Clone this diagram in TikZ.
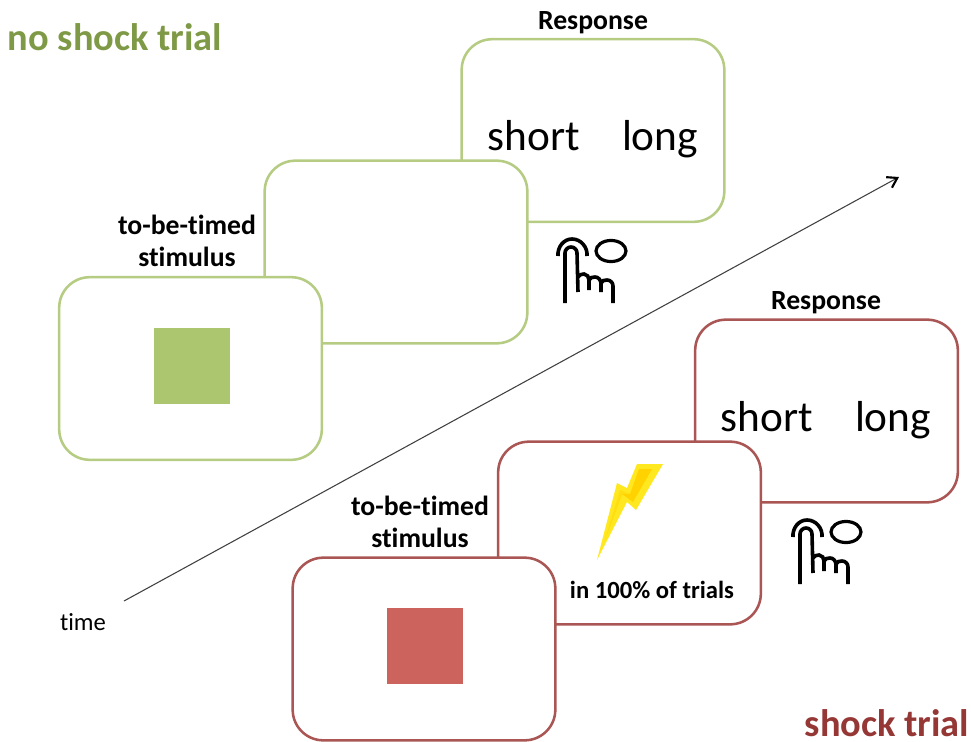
\documentclass[tikz,border=0pt]{standalone}
\usepackage{fontspec}
\setmainfont[Ligatures=NoCommon]{Carlito}
\usepackage{xcolor}
\usetikzlibrary{arrows.meta}
\definecolor{noshockline}{HTML}{B5CC82}
\definecolor{noshockfill}{HTML}{ABC66E}
\definecolor{noshocktext}{HTML}{7F9A46}
\definecolor{shockline}{HTML}{A95654}
\definecolor{shockfill}{HTML}{CC635C}
\definecolor{shocktext}{HTML}{953735}
\definecolor{boltout}{HTML}{FFE81F}
\definecolor{boltmid}{HTML}{FFDD10}
\definecolor{boltin}{HTML}{FFD200}
\tikzset{
  screen/.style={draw=#1, line width=1.9pt, fill=white, rounded corners=23pt, minimum width=197pt, minimum height=137pt, inner sep=0pt},
  stimsquare/.style={fill=#1, minimum width=57pt, minimum height=57pt, inner sep=0pt},
  choice/.style={font=\fontsize{32.5}{36}\selectfont, inner sep=0pt, anchor=base},
  caption/.style={font=\fontsize{20.8}{24.5}\selectfont\bfseries, align=center, inner sep=0pt},
  trialname/.style={font=\fontsize{28.8}{32}\selectfont\bfseries, inner sep=0pt, anchor=base},
  hand/.pic={
    \draw[line width=2.7pt, line join=round] (35,83) -- (35,33) to[out=90,in=180] (41,27) to[out=0,in=90] (47,33) -- (48,72);
    \draw[line width=2.7pt] (48,57) to[out=60,in=180] (54,54) to[out=0,in=90] (59,60) -- (59,70);
    \draw[line width=2.7pt] (59,60) to[out=70,in=180] (65,57) to[out=0,in=100] (71,63) -- (71,72);
    \draw[line width=2.7pt] (71,63) to[out=70,in=180] (77,60) to[out=0,in=90] (83,66) -- (83,83);
    \draw[line width=2.7pt] (28,36) to[out=95,in=180] (42,19) to[out=0,in=85] (57,36);
    \draw[line width=2.4pt] (81,31) ellipse (11.25pt and 7.9pt);
  }
}
\begin{document}
\begin{tikzpicture}[x=0.75pt,y=-0.75pt]
        \useasboundingbox (0,0) rectangle (971,742);
        % Time axis
        \coordinate (timestart) at (124,601);
        \coordinate (timeend) at (899,177);
        \draw[line width=0.8pt, draw=black!75, -{Straight Barb[length=7pt,width=9pt,line width=1.6pt,black]}] (timestart) -- (timeend);
        \node[font=\fontsize{18.5}{22}\selectfont, inner sep=0pt] (timelabel) at (83,622) {time};
        % No shock trial
        \node[trialname, text=noshocktext] (noshocktitle) at (115,51) {no shock trial};
        \node[screen=noshockline] (noshockresp) at (593,130.5) {};
        \node[screen=noshockline] (noshockgap) at (396,252) {};
        \node[screen=noshockline] (noshockstim) at (190.5,368.5) {};
        \node[stimsquare=noshockfill] (noshocksq) at (192,366) {};
        \node[caption] (noshockcap) at (187,241) {to-be-timed\\stimulus};
        \node[caption] (noshockresplabel) at (593,23) {Response};
        \node[choice] (noshockshort) at (534,150) {short};
        \node[choice] (noshocklong) at (660,150) {long};
        \pic at (530,220) {hand};
        % Shock trial
        \node[screen=shockline] (shockresp) at (826.5,411) {};
        \node[screen=shockline] (shockgap) at (629.5,533) {};
        \node[screen=shockline] (shockstim) at (424,649) {};
        \node[stimsquare=shockfill] (shocksq) at (425,646) {};
        \node[caption] (shockcap) at (420,522) {to-be-timed\\stimulus};
        \node[caption] (shockresplabel) at (826,303) {Response};
        \node[choice] (shockshort) at (767,431) {short};
        \node[choice] (shocklong) at (893,431) {long};
        \node[caption, font=\fontsize{18.5}{23}\selectfont\bfseries] (shockrate) at (652,590) {in 100\% of trials};
        \node[trialname, text=shocktext] (shocktitle) at (887,736) {shock trial};
        \pic at (765,501) {hand};
        % Bolt
        \fill[boltout] (637,464) -- (663,464) -- (636,510) -- (627,502) -- (597,560) -- (617,483) -- (627,488) -- cycle;
        \fill[boltmid] (620,490) -- (630,494) -- (622,495) -- (605,540) -- cycle;
        \fill[boltin] (639,469) -- (652,469) -- (633,502) -- (622,494) -- (630,494) -- cycle;
\end{tikzpicture}
\end{document}
